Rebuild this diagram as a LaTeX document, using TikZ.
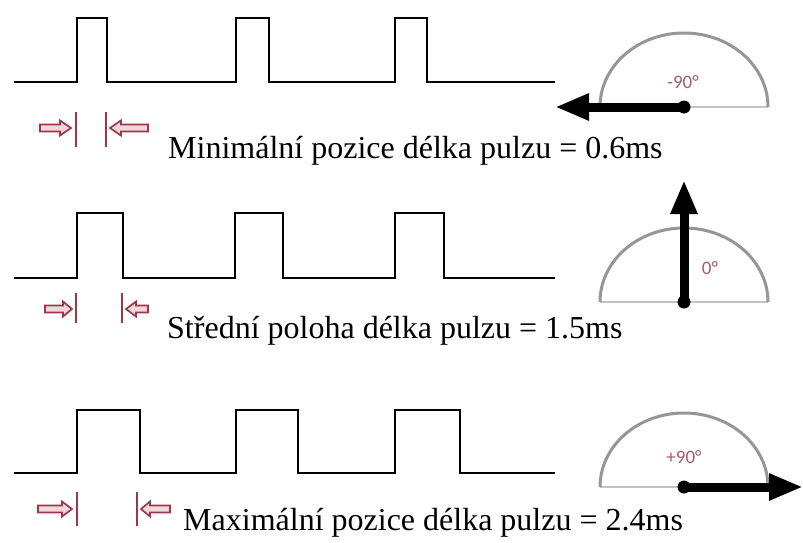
\documentclass[tikz,border=0pt]{standalone}
\usepackage{fontspec}
\setmainfont{Liberation Serif}
\newfontfamily\dialfont{Carlito}
\usetikzlibrary{arrows.meta}
\definecolor{markred}{RGB}{160,52,72}
\definecolor{markfill}{RGB}{240,215,220}
\definecolor{dialgray}{RGB}{150,150,150}
\definecolor{basegray}{RGB}{195,195,195}
\definecolor{labred}{RGB}{160,95,108}
\tikzset{
  wave/.style={line width=2.6pt, line join=miter},
  markline/.style={draw=markred, fill=markfill, line width=1.7pt, line join=miter},
  markbar/.style={draw=markred, line width=1.8pt},
  dialarc/.style={draw=dialgray, line width=3pt},
  dialbase/.style={draw=basegray, line width=1.3pt},
  needle/.style={line width=9pt, -{Triangle[length=34pt,width=25pt]}},
  captext/.style={anchor=base west, font=\fontsize{32}{38}\selectfont, inner sep=0pt},
  diallab/.style={text=labred, font=\dialfont\fontsize{19}{22}\selectfont, inner sep=0pt}
}
% tail x, head base x, tip x, y
\newcommand\pwArrow[4]{%
  \draw[markline] (#1,{#4-3.5}) -- (#2,{#4-3.5}) -- (#2,{#4-7.5}) -- (#3,#4) -- (#2,{#4+7.5}) -- (#2,{#4+3.5}) -- (#1,{#4+3.5}) -- cycle;}
\begin{document}
\begin{tikzpicture}[x=1pt,y=-1pt]
\useasboundingbox (0,0) rectangle (803,543);

% ---------- waveforms ----------
\draw[wave] (14,82) -- (77,82) -- (77,18) -- (107,18) -- (107,82) -- (236,82) -- (236,18) -- (269,18) -- (269,82)
  -- (395,82) -- (395,18) -- (427,18) -- (427,82) -- (555,82);
\draw[wave] (14,278) -- (77,278) -- (77,213) -- (123,213) -- (123,278) -- (235,278) -- (235,213) -- (283,213) -- (283,278)
  -- (395,278) -- (395,213) -- (444,213) -- (444,278) -- (555,278);
\draw[wave] (14,473) -- (77,473) -- (77,410) -- (140,410) -- (140,473) -- (236,473) -- (236,410) -- (298,410) -- (298,473)
  -- (395,473) -- (395,410) -- (460,410) -- (460,473) -- (555,473);

% ---------- pulse width markers ----------
\pwArrow{40}{60}{71}{128}
\pwArrow{148}{121}{110}{128}
\draw[markbar] (76,112) -- (76,147);
\draw[markbar] (106,112) -- (106,147);

\pwArrow{45}{63}{72}{309}
\pwArrow{148}{136}{126}{309}
\draw[markbar] (76,293) -- (76,323);
\draw[markbar] (122,293) -- (122,323);

\pwArrow{38}{62}{72}{509}
\pwArrow{170}{150}{141}{509}
\draw[markbar] (77,492) -- (77,526);
\draw[markbar] (137,492) -- (137,526);

% ---------- captions ----------
\node[captext] (t1) at (168,158) {Minimální pozice délka pulzu = 0.6ms};
\node[captext] (t2) at (167,338) {Střední poloha délka pulzu = 1.5ms};
\node[captext] (t3) at (183,530) {Maximální pozice délka pulzu = 2.4ms};

% ---------- dials ----------
\coordinate (c1) at (684,107);
\coordinate (c2) at (684,302);
\coordinate (c3) at (684,487);
\coordinate (e1) at (555,107);
\coordinate (e2) at (684,180);
\coordinate (e3) at (803,487);

\foreach \c in {c1,c2,c3}{
  \draw[dialbase] ([xshift=-84pt]\c) -- ([xshift=84pt]\c);
  \draw[dialarc] ([xshift=-84pt]\c) arc[start angle=180, end angle=360, x radius=84, y radius=74];
}
\node[diallab] (l1) at (683,82) {-90°};
\node[diallab] (l2) at (710,268) {0°};
\node[diallab] (l3) at (684,457) {+90°};

\draw[needle] (c1) -- (e1);
\draw[needle] (c2) -- (e2);
\draw[needle] (c3) -- (e3);
\fill (c1) circle[radius=6.5];
\fill (c2) circle[radius=6.5];
\fill (c3) circle[radius=6.5];
\end{tikzpicture}
\end{document}
